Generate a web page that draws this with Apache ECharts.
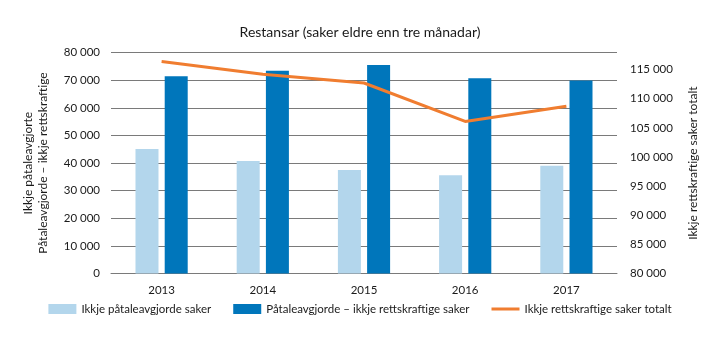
<!DOCTYPE html>
<html>
<head>
<meta charset="utf-8">
<script src="https://cdn.jsdelivr.net/npm/echarts@6/dist/echarts.min.js"></script>
<style>
html,body{margin:0;padding:0;background:#fff;}
#chart{width:720px;height:341px;}
</style>
</head>
<body>
<div id="chart"></div>
<script>
const categories = ['2013', '2014', '2015', '2016', '2017'];
const ikkjePataleavgjorde = [45100, 40800, 37500, 35600, 39000];
const pataleavgjordeIkkjeRettskraftige = [71500, 73500, 75500, 70700, 69900];
const rettskraftigeTotalt = [116400, 114200, 112700, 106100, 108700];
const seriesNames = ['Ikkje påtaleavgjorde saker', 'Påtaleavgjorde – ikkje rettskraftige saker', 'Ikkje rettskraftige saker totalt'];
const titleText = 'Restansar (saker eldre enn tre månadar)';
const leftAxisName = 'Ikkje påtaleavgjorte\nPåtaleavgjorde – ikkje rettskraftige';
const rightAxisName = 'Ikkje rettskraftige saker totalt';

const FONT = 'Lato';
const fmt = v => String(v).replace(/\B(?=(\d{3})+(?!\d))/g, ' ');
const gridColor = '#7a7a7a';
const lineIcon = 'path://M0,0L0.01,0L0,0Z M0,10L0.01,10L0,10Z M0,3.6L28,3.6L28,6.4L0,6.4Z';

const chart = echarts.init(document.getElementById('chart'), null, {renderer: 'canvas'});
chart.setOption({
  animation: false,
  textStyle: {fontFamily: FONT},
  title: {
    text: titleText, left: 'center', top: 20,
    textStyle: {fontFamily: FONT, fontSize: 14, fontWeight: 'normal', color: '#1a1a1a'}
  },
  grid: {left: 111, right: 103, top: 52.7, bottom: 67.5, containLabel: false},
  legend: {
    bottom: 21, left: 'center', itemGap: 22, itemWidth: 28, itemHeight: 10,
    textStyle: {fontFamily: FONT, fontSize: 11.5, color: '#1a1a1a'},
    data: [
      {name: seriesNames[0], icon: 'rect'},
      {name: seriesNames[1], icon: 'rect'},
      {name: seriesNames[2], icon: lineIcon, itemStyle: {color: '#f07d30'}}
    ]
  },
  xAxis: {
    type: 'category', data: categories,
    axisLine: {show: true, lineStyle: {color: gridColor, width: 1}},
    axisTick: {show: false},
    axisLabel: {fontFamily: FONT, fontSize: 11.5, color: '#1a1a1a', margin: 11}
  },
  yAxis: [
    {
      type: 'value', min: 0, max: 80000, interval: 10000,
      name: leftAxisName, nameLocation: 'middle', nameRotate: 90, nameGap: 60,
      nameTextStyle: {fontFamily: FONT, fontSize: 12, color: '#1a1a1a', lineHeight: 15},
      axisLine: {show: false}, axisTick: {show: false},
      splitLine: {show: true, lineStyle: {color: gridColor, width: 1}},
      axisLabel: {fontFamily: FONT, fontSize: 11.5, color: '#1a1a1a', margin: 11, formatter: fmt}
    },
    {
      type: 'value', min: 80000, max: 117900, interval: 5000, position: 'right',
      name: rightAxisName, nameLocation: 'middle', nameRotate: 90, nameGap: 70,
      nameTextStyle: {fontFamily: FONT, fontSize: 12, color: '#1a1a1a'},
      axisLine: {show: false}, axisTick: {show: false},
      splitLine: {show: false},
      axisLabel: {fontFamily: FONT, fontSize: 11.5, color: '#1a1a1a', margin: 13, formatter: fmt, showMaxLabel: false}
    }
  ],
  series: [
    {
      name: seriesNames[0], type: 'bar', yAxisIndex: 0, data: ikkjePataleavgjorde,
      barWidth: 23, barGap: '27%', itemStyle: {color: '#b3d6ec'}
    },
    {
      name: seriesNames[1], type: 'bar', yAxisIndex: 0, data: pataleavgjordeIkkjeRettskraftige,
      barWidth: 23, barGap: '27%', itemStyle: {color: '#0076bb'}
    },
    {
      name: seriesNames[2], type: 'line', yAxisIndex: 1, data: rettskraftigeTotalt,
      symbol: 'none', lineStyle: {color: '#f07d30', width: 3}, itemStyle: {color: '#f07d30'}
    }
  ]
});
</script>
</body>
</html>
